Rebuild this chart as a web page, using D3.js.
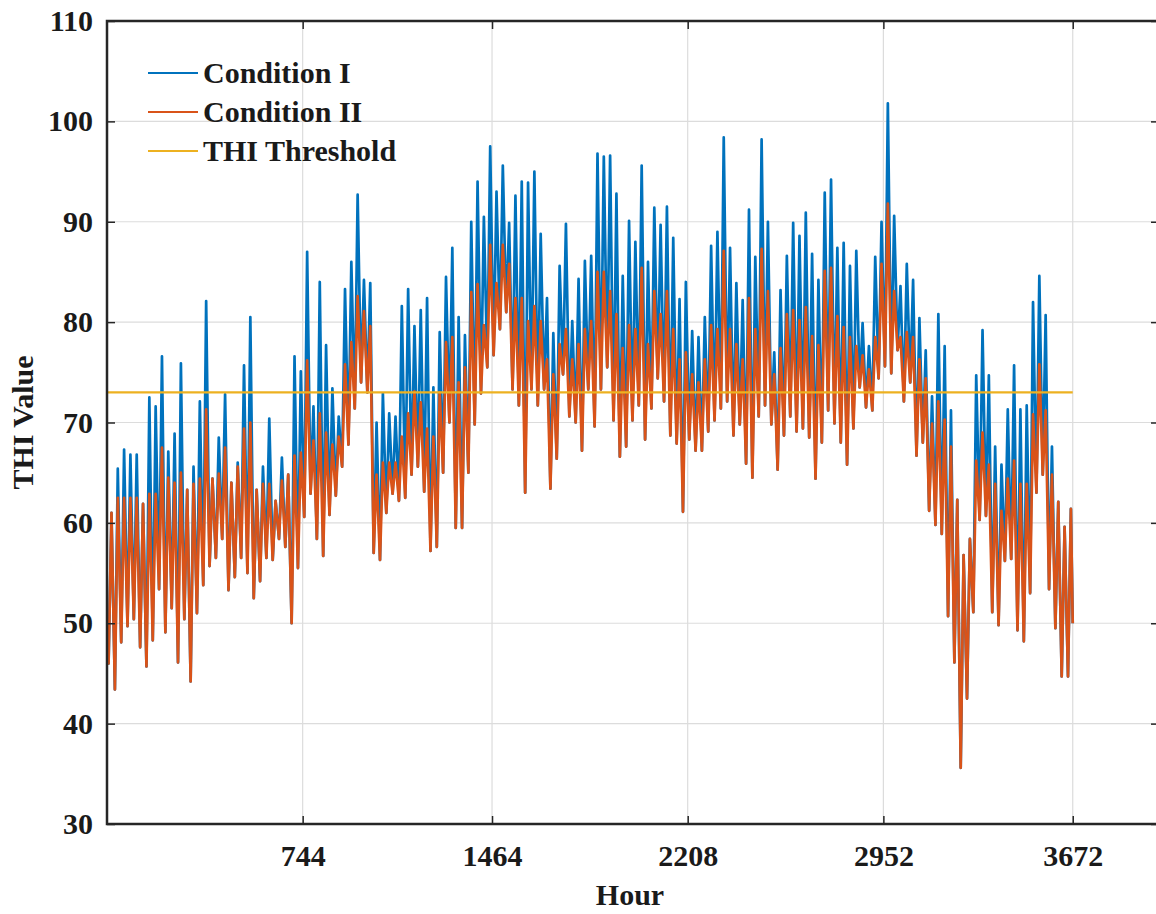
<!DOCTYPE html>
<html>
<head>
<meta charset="utf-8">
<script src="https://cdn.jsdelivr.net/npm/d3@7"></script>
<style>
  body { margin: 0; background: #fff; }
  text { font-family: "Liberation Serif", "Times New Roman", serif; font-weight: bold; fill: #1a1a1a; }
</style>
</head>
<body>
<svg id="chart" width="1156" height="914"></svg>
<script>
// month-end hours (May..Sep) used as x ticks
const xTicks = [744, 1464, 2208, 2952, 3672];
const yTicks = [30, 40, 50, 60, 70, 80, 90, 100, 110];
const seriesNames = ["Condition I", "Condition II", "THI Threshold"];
const colors = ["#0072BD", "#D95319", "#EDB120"];
const threshold = 73;

// daily values, one per day (153 days)
const dayTrough = [
  46, 43.4, 48.1, 49.7, 50.4, 47.6, 45.7, 48.3, 53.4, 49.1,
  51.5, 46.1, 50.4, 44.2, 51, 53.8, 55.7, 56.5, 58.4, 53.3,
  54.6, 56.5, 55, 52.5, 54.2, 56.5, 56.3, 58.4, 57.6, 50,
  55.5, 60.6, 62.9, 58.4, 56.7, 60.8, 62.7, 65.6, 67.8, 71.4,
  74, 73, 57, 56.3, 61, 62.9, 62.2, 62.5, 64.8, 65.6,
  63.1, 57.2, 57.6, 65, 70, 59.5, 59.5, 65, 69.8, 72.9,
  75.5, 76.7, 79.3, 81, 73.3, 71.7, 63, 73.3, 71.7, 73.3,
  63.4, 66.4, 74.8, 70.6, 70, 67.2, 73.3, 69.6, 73.3, 75.5,
  70.2, 66.6, 67.6, 70.2, 71.7, 68.3, 71.4, 74.4, 72.1, 68.7,
  67.9, 61.1, 68.3, 67.2, 67.2, 69.1, 70.2, 71.4, 72.1, 68.7,
  69.8, 65.9, 64.5, 70.6, 71.7, 69.8, 65.3, 68.7, 70.6, 69.1,
  69.4, 68.5, 64.4, 68, 71.2, 69.9, 68, 65.8, 69.4, 73.5,
  71.5, 71.2, 74.4, 75.6, 74.9, 77.2, 72.1, 74, 66.7, 68,
  61.2, 59.8, 58.9, 50.7, 46.1, 35.6, 42.5, 51.1, 60.3, 60.7,
  51.1, 49.8, 56.2, 56.4, 49.3, 48.2, 53, 63, 64.8, 53.4,
  49.5, 44.7, 44.7
];

const dayPeakI = [
  61, 65.4, 67.3, 66.8, 66.8, 61.9, 72.5, 71.6, 76.6, 67.1,
  68.9, 75.9, 63.3, 65.6, 72.1, 82.1, 64.4, 68.5, 72.8, 64,
  66, 75.7, 80.5, 63.3, 65.6, 70.4, 62.2, 66.5, 64.8, 76.6,
  75.1, 87, 71.6, 84, 77.7, 73.4, 70.6, 83.3, 86, 92.7,
  84.2, 83.9, 70, 72.9, 70.9, 70.6, 81.6, 83.3, 79.6, 81.2,
  82.4, 73.5, 79, 84.5, 87.4, 80.5, 78.7, 90, 94, 90.5,
  97.5, 93, 95.6, 89.9, 92.6, 94, 93.9, 95, 88.8, 82.4,
  78.9, 85.6, 89.8, 80.1, 84.3, 86.1, 86.6, 96.8, 96.5, 96.6,
  92.8, 84.6, 90.1, 88, 95.6, 86, 91.4, 89.7, 91.5, 88.4,
  82.3, 84, 79.1, 78.5, 80.5, 87.6, 89, 98.4, 87.4, 83.9,
  82.2, 91.2, 86.5, 98.2, 90, 77, 83.2, 86.6, 89.9, 88.6,
  90.9, 86.8, 84.2, 92.9, 94.2, 87.4, 87.9, 85.6, 87.1, 79.9,
  77.6, 86.5, 90, 101.8, 90.6, 83.6, 85.8, 84.2, 80.4, 77.2,
  72.6, 80.8, 77.6, 71.2, 62.3, 56.8, 58.4, 74.7, 79.2, 74.7,
  67.6, 65.8, 71.3, 75.7, 71.3, 71.7, 82, 84.6, 80.7, 67.6,
  62.1, 59.6, 61.4
];

const dayPeakII = [
  61, 62.5, 62.5, 62.5, 62.5, 61.9, 62.9, 62.9, 67.5, 64.5,
  64, 65, 63.3, 63.9, 64.4, 71.3, 64.4, 64.9, 67.5, 64,
  65.6, 69.4, 70, 63.3, 63.9, 63.9, 62.2, 64.2, 64.8, 66.7,
  67, 76.2, 68.2, 70.9, 69, 67.8, 68.6, 75.8, 78, 82.6,
  81.1, 79.6, 64.8, 66, 66, 66, 68.6, 70.9, 73.1, 72,
  69.4, 68.6, 73, 78, 78.5, 74, 75.5, 83, 83.8, 79.7,
  87.7, 83.9, 87.7, 85.8, 82.4, 82.4, 80.1, 81.6, 80.1, 76.3,
  74.8, 77.8, 79.3, 76.3, 77.8, 79.3, 80.1, 85, 85, 83.1,
  80.8, 77.4, 79.7, 79.3, 85.4, 77.8, 83.1, 80.8, 83.1, 79.3,
  76.3, 77, 74.8, 74, 76.3, 79.7, 79.3, 87.1, 79.3, 77.8,
  76.3, 82.4, 79.3, 87.3, 83.1, 74.8, 77.4, 80.8, 81.2, 80.2,
  81.5, 78.6, 77.7, 85.1, 85.4, 80.6, 79.5, 78.5, 77.6, 76.7,
  75.3, 78.5, 85.8, 91.8, 83.1, 78.5, 79, 78.5, 76.3, 74.4,
  69.9, 72.1, 70.3, 67.6, 62.3, 56.8, 58.4, 66.2, 69, 65.8,
  63.9, 61.2, 64.4, 66.2, 63.9, 63.9, 70.8, 75.8, 71.2, 64.8,
  62.1, 59.6, 61.4
];

const firstValue = 46.3;   // hour 1
const lastValue = 50;      // hour 3672
const troughHour = 6, peakHour = 17;

const width = 1156, height = 914;
const margin = {top: 21, right: -3, bottom: 90, left: 107};

const svg = d3.select("#chart");

const x = d3.scaleLinear()
    .domain([0, 4000])
    .range([margin.left, width - margin.right]);
const y = d3.scaleLinear()
    .domain([30, 110])
    .range([height - margin.bottom, margin.top]);

function buildSeries(peaks) {
    const pts = [{h: 1, v: firstValue}];
    peaks.forEach(function (p, d) {
        pts.push({h: d * 24 + troughHour, v: dayTrough[d]});
        pts.push({h: d * 24 + peakHour, v: p});
    });
    pts.push({h: 3672, v: lastValue});
    return pts;
}

const seriesI = buildSeries(dayPeakI);
const seriesII = buildSeries(dayPeakII);

// grid
const grid = svg.append("g");
grid.selectAll(".gx")
    .data(xTicks)
    .enter().append("line")
    .attr("x1", d => x(d)).attr("x2", d => x(d))
    .attr("y1", y(30)).attr("y2", y(110))
    .attr("stroke", "#dcdcdc").attr("stroke-width", 1.2);
grid.selectAll(".gy")
    .data(yTicks)
    .enter().append("line")
    .attr("x1", x(0)).attr("x2", x(4000))
    .attr("y1", d => y(d)).attr("y2", d => y(d))
    .attr("stroke", "#dcdcdc").attr("stroke-width", 1.2);

svg.append("clipPath").attr("id", "plot")
    .append("rect")
    .attr("x", x(0)).attr("y", y(110))
    .attr("width", x(4000) - x(0)).attr("height", y(30) - y(110));

const line = d3.line()
    .x(d => x(d.h))
    .y(d => y(d.v));

const plot = svg.append("g").attr("clip-path", "url(#plot)");

plot.append("path")
    .datum(seriesI)
    .attr("d", line)
    .attr("fill", "none")
    .attr("stroke", colors[0])
    .attr("stroke-width", 2.7)
    .attr("stroke-linejoin", "round");

plot.append("path")
    .datum(seriesII)
    .attr("d", line)
    .attr("fill", "none")
    .attr("stroke", colors[1])
    .attr("stroke-width", 2.7)
    .attr("stroke-linejoin", "round");

plot.append("path")
    .datum([{h: 1, v: threshold}, {h: 3672, v: threshold}])
    .attr("d", line)
    .attr("fill", "none")
    .attr("stroke", colors[2])
    .attr("stroke-width", 2.4);

// axes, ticks pointing inward
const axisColor = "#262626";
function styleAxis(g) {
    g.select(".domain").remove();
    g.selectAll(".tick line").attr("stroke", axisColor).attr("stroke-width", 1.5);
    g.selectAll(".tick text").style("font-size", "30px").attr("fill", "#1a1a1a");
}

svg.append("g")
    .attr("transform", "translate(0," + y(30) + ")")
    .call(d3.axisBottom(x).tickValues(xTicks).tickSize(-8).tickPadding(21).tickFormat(d3.format("d")))
    .call(styleAxis);

svg.append("g")
    .attr("transform", "translate(0," + y(110) + ")")
    .call(d3.axisTop(x).tickValues(xTicks).tickSize(-8).tickFormat(""))
    .call(styleAxis);

svg.append("g")
    .attr("transform", "translate(" + x(0) + ",0)")
    .call(d3.axisLeft(y).tickValues(yTicks).tickSize(-8).tickPadding(14).tickFormat(d3.format("d")))
    .call(styleAxis);

svg.append("g")
    .attr("transform", "translate(" + x(4000) + ",0)")
    .call(d3.axisRight(y).tickValues(yTicks).tickSize(-8).tickFormat(""))
    .call(styleAxis);

svg.append("rect")
    .attr("x", x(0)).attr("y", y(110))
    .attr("width", x(4000) - x(0)).attr("height", y(30) - y(110))
    .attr("fill", "none")
    .attr("stroke", axisColor)
    .attr("stroke-width", 2.5);

// axis titles
svg.append("text")
    .attr("x", 630).attr("y", 905)
    .attr("text-anchor", "middle")
    .style("font-size", "30px")
    .text("Hour");

svg.append("text")
    .attr("transform", "translate(33," + (y(70)) + ") rotate(-90)")
    .attr("text-anchor", "middle")
    .style("font-size", "30px")
    .text("THI Value");

// legend
const legend = svg.append("g").attr("transform", "translate(148,73)");
seriesNames.forEach(function (name, i) {
    const row = legend.append("g").attr("transform", "translate(0," + (i * 39) + ")");
    row.append("line")
        .attr("x1", 0).attr("x2", 50)
        .attr("stroke", colors[i]).attr("stroke-width", 2);
    row.append("text")
        .attr("x", 55).attr("y", 10)
        .style("font-size", "30px")
        .text(name);
});
</script>
</body>
</html>
